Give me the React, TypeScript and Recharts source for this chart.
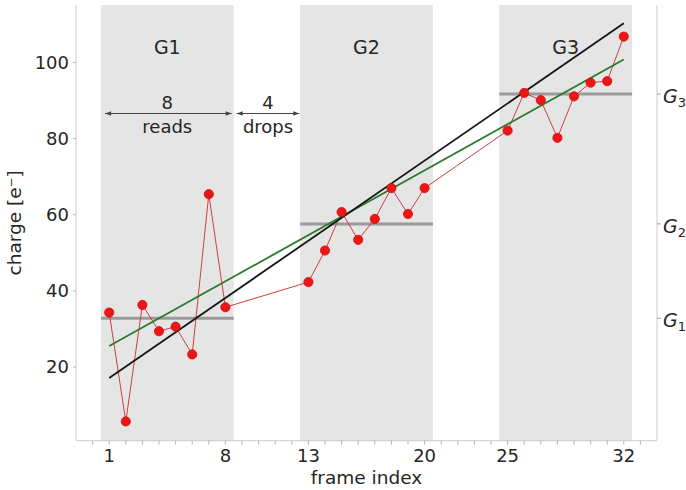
import React from 'react';
import {
  ComposedChart,
  Line,
  XAxis,
  YAxis,
  ReferenceArea,
  ReferenceLine,
  ReferenceDot,
} from 'recharts';

// ---- data ----
const frames = [1, 2, 3, 4, 5, 6, 7, 8, 13, 14, 15, 16, 17, 18, 19, 20, 25, 26, 27, 28, 29, 30, 31, 32];
const charge = [
  34.3, 5.7, 36.3, 29.4, 30.6, 23.3, 65.4, 35.7,
  42.3, 50.6, 60.7, 53.4, 58.9, 67.0, 60.2, 67.0,
  82.1, 92.0, 90.1, 80.2, 91.1, 94.7, 95.1, 106.8,
];
const fitFrames = [1, 32];
const fitBlack = [17.1, 110.3];
const fitGreen = [25.5, 100.8];

const groupNames = ['G1', 'G2', 'G3'];
const groupStart = [0.5, 12.5, 24.5];
const groupEnd = [8.5, 20.5, 32.5];
const groupLevel = [32.8, 57.6, 91.7];
const groupSub = ['1', '2', '3'];

const majorXTicks = [1, 8, 13, 20, 25, 32];
const allXTicks = [0, 1, 2, 3, 4, 5, 6, 7, 8, 9, 10, 11, 12, 13, 14, 15, 16, 17, 18, 19, 20, 21, 22, 23, 24, 25, 26, 27, 28, 29, 30, 31, 32, 33];
const yTicks = [20, 40, 60, 80, 100];

// annotation values (data coordinates)
const annoTitleY = 102.2;
const annoCountY = 87.7;
const annoWordY = 81.4;
const arrowY = 86.6;
const readsArrow = [0.75, 8.38];
const dropsArrow = [8.68, 12.45];
const readsX = 4.5;
const dropsX = 10.57;

const mainData = frames.map((f, i) => ({ x: f, y: charge[i] }));
const blackData = fitFrames.map((f, i) => ({ x: f, y: fitBlack[i] }));
const greenData = fitFrames.map((f, i) => ({ x: f, y: fitGreen[i] }));

const FONT = 'DejaVu Sans';
const TXT = '#262626';

const XTick = (props: any) => {
  const { x, y, payload } = props;
  const v = payload.value;
  const major = majorXTicks.includes(v);
  return (
    <g>
      <line x1={x} x2={x} y1={y} y2={y + 4} stroke="#b5b5b5" strokeWidth={1} />
      {major && (
        <text x={x} y={y + 21} textAnchor="middle" fontSize={18} fill={TXT} fontFamily={FONT}>
          {v}
        </text>
      )}
    </g>
  );
};

const RTick = (props: any) => {
  const { x, y, payload } = props;
  const idx = groupLevel.indexOf(payload.value);
  return (
    <g>
      <line x1={x} x2={x + 3.5} y1={y} y2={y} stroke="#999" strokeWidth={1} />
      <text x={x + 6} y={y + 9} fontSize={19} fill={TXT} fontFamily={FONT}>
        <tspan fontStyle="italic">G</tspan>
        <tspan fontSize={13} dy={4}>{groupSub[idx]}</tspan>
      </text>
    </g>
  );
};

const Arrow = (p: any) => {
  const { x1, y1, x2, y2 } = p;
  const h = 6;
  const w = 2.2;
  const c = '#444';
  return (
    <g>
      <line x1={x1} y1={y1} x2={x2} y2={y2} stroke={c} strokeWidth={1} />
      <polygon points={`${x1},${y1} ${x1 + h},${y1 - w} ${x1 + h},${y1 + w}`} fill={c} />
      <polygon points={`${x2},${y2} ${x2 - h},${y2 - w} ${x2 - h},${y2 + w}`} fill={c} />
    </g>
  );
};

const textShape = (label: string, size: number) => (p: any) => (
  <text x={p.cx} y={p.cy} textAnchor="middle" fontSize={size} fill={TXT} fontFamily={FONT}>
    {label}
  </text>
);

const RedDot = (p: any) => {
  const { cx, cy } = p;
  if (cx == null || cy == null) return null;
  return <circle cx={cx} cy={cy} r={4.6} fill="#ee1515" stroke="#c81010" strokeWidth={0.8} />;
};

export default function App() {
  return (
    <div style={{ position: 'absolute', left: 0, top: 0, width: 686, height: 490, background: '#fff', fontFamily: FONT }}>
      <ComposedChart width={686} height={490} margin={{ top: 5, right: 0, bottom: 0, left: 20 }}>
        <XAxis
          type="number"
          dataKey="x"
          domain={[-1, 34]}
          allowDataOverflow
          ticks={allXTicks}
          interval={0}
          tick={<XTick />}
          tickLine={false}
          tickSize={0}
          tickMargin={0}
          height={49.3}
          axisLine={{ stroke: '#cccccc', strokeWidth: 1 }}
          label={{
            content: (p: any) => {
              const vb = p.viewBox;
              return (
                <text x={vb.x + vb.width / 2} y={vb.y + 43} textAnchor="middle" fontSize={18.5} fill={TXT} fontFamily={FONT}>
                  frame index
                </text>
              );
            },
          }}
        />
        <YAxis
          yAxisId="left"
          type="number"
          domain={[0.64, 115.1]}
          allowDataOverflow
          ticks={yTicks}
          width={56}
          tick={{ fontSize: 18, fill: TXT, fontFamily: FONT }}
          tickSize={3}
          tickMargin={4}
          tickLine={{ stroke: '#b5b5b5' }}
          axisLine={{ stroke: '#cccccc', strokeWidth: 1 }}
          label={{
            content: (p: any) => {
              const vb = p.viewBox;
              const cx = vb.x + 1.5;
              const cy = vb.y + vb.height / 2;
              return (
                <text x={cx} y={cy} transform={`rotate(-90 ${cx} ${cy})`} textAnchor="middle" fontSize={18.5} fill={TXT} fontFamily={FONT}>
                  charge [e⁻]
                </text>
              );
            },
          }}
        />
        <YAxis
          yAxisId="right"
          orientation="right"
          type="number"
          domain={[0.64, 115.1]}
          allowDataOverflow
          ticks={groupLevel}
          width={29}
          tick={<RTick />}
          tickLine={false}
          tickSize={0}
          tickMargin={0}
          axisLine={{ stroke: '#cccccc', strokeWidth: 1 }}
        />

        {groupNames.map((g, i) => (
          <ReferenceArea
            key={'area' + g}
            yAxisId="left"
            x1={groupStart[i]}
            x2={groupEnd[i]}
            fill="#e5e5e5"
            fillOpacity={1}
            stroke="none"
            ifOverflow="visible"
          />
        ))}

        {groupNames.map((g, i) => (
          <ReferenceLine
            key={'lvl' + g}
            yAxisId="left"
            segment={[
              { x: groupStart[i], y: groupLevel[i] },
              { x: groupEnd[i], y: groupLevel[i] },
            ]}
            stroke="#9a9a9a"
            strokeWidth={3}
            ifOverflow="visible"
          />
        ))}

        <Line
          yAxisId="left"
          data={mainData}
          dataKey="y"
          type="linear"
          stroke="#cc4040"
          strokeWidth={1}
          dot={<RedDot />}
          activeDot={false}
          isAnimationActive={false}
        />
        <Line
          yAxisId="left"
          data={greenData}
          dataKey="y"
          type="linear"
          stroke="#2b7a2b"
          strokeWidth={1.8}
          dot={false}
          activeDot={false}
          isAnimationActive={false}
        />
        <Line
          yAxisId="left"
          data={blackData}
          dataKey="y"
          type="linear"
          stroke="#151515"
          strokeWidth={1.8}
          dot={false}
          activeDot={false}
          isAnimationActive={false}
        />

        {groupNames.map((g, i) => (
          <ReferenceDot
            key={'title' + g}
            yAxisId="left"
            x={(groupStart[i] + groupEnd[i]) / 2}
            y={annoTitleY}
            ifOverflow="visible"
            shape={textShape(g, 19)}
          />
        ))}

        <ReferenceLine
          yAxisId="left"
          segment={[
            { x: readsArrow[0], y: arrowY },
            { x: readsArrow[1], y: arrowY },
          ]}
          ifOverflow="visible"
          shape={<Arrow />}
        />
        <ReferenceLine
          yAxisId="left"
          segment={[
            { x: dropsArrow[0], y: arrowY },
            { x: dropsArrow[1], y: arrowY },
          ]}
          ifOverflow="visible"
          shape={<Arrow />}
        />
        <ReferenceDot yAxisId="left" x={readsX} y={annoCountY} ifOverflow="visible" shape={textShape('8', 18)} />
        <ReferenceDot yAxisId="left" x={readsX} y={annoWordY} ifOverflow="visible" shape={textShape('reads', 18)} />
        <ReferenceDot yAxisId="left" x={dropsX} y={annoCountY} ifOverflow="visible" shape={textShape('4', 18)} />
        <ReferenceDot yAxisId="left" x={dropsX} y={annoWordY} ifOverflow="visible" shape={textShape('drops', 18)} />
      </ComposedChart>
    </div>
  );
}
